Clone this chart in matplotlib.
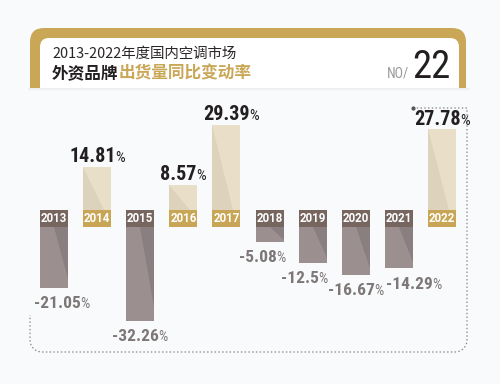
import numpy as np
import matplotlib
matplotlib.use('Agg')
import matplotlib.pyplot as plt
from matplotlib import font_manager
from matplotlib.patches import FancyBboxPatch, Rectangle, Polygon

years = ['2013', '2014', '2015', '2016', '2017', '2018', '2019', '2020', '2021', '2022']
changes = [-21.05, 14.81, -32.26, 8.57, 29.39, -5.08, -12.5, -16.67, -14.29, 27.78]

title_1 = '2013-2022年度国内空调市场'
title_2a = '外资品牌'
title_2b = '出货量同比变动率'
page_no = '22'

bg = '#f9fafb'
gold = '#c9a757'
pos_bar, pos_dark = '#e9dfc8', '#ddd2bb'
neg_bar, neg_dark = '#9b8f8f', '#8a7f80'
pos_box, neg_box = '#c8a655', '#76665f'
cjk = ['Noto Sans CJK SC', 'DejaVu Sans']
# hand nudges (px) the original layout uses for a few labels
nudge = {'2013': 8, '2017': 5, '2018': -7, '2019': -8, '2021': 15}

# pick a condensed face for the numbers if one is installed
narrow, stretch = 'Roboto', 'normal'
faces = [(f.name, str(f.stretch)) for f in font_manager.fontManager.ttflist]
for name in ['Roboto Condensed', 'Liberation Sans Narrow', 'Open Sans Condensed']:
    if any(n == name for n, s in faces):
        narrow = name
        break
else:
    if any(n == 'DejaVu Sans' and 'condensed' in s for n, s in faces):
        narrow, stretch = 'DejaVu Sans', 'condensed'

fig = plt.figure(figsize=(5, 3.84), dpi=100, facecolor=bg)

# data axes: 1 unit = 2.9 px, year boxes straddle zero
ax = fig.add_axes([0, 0, 1, 1])
ax.set_facecolor('none')
ax.axis('off')
ax.set_zorder(2)
step = 43.11
ax.set_xlim(-54 / step, (500 - 54) / step)
ppu = 2.9
ax.set_ylim((218.5 - 384) / ppu, 218.5 / ppu)
half = 8.5 / ppu
w = 0.65

x = np.arange(len(years))
vals = np.array(changes)
bottoms = np.where(vals > 0, half, -half)
ax.bar(x, vals, bottom=bottoms, width=w,
       color=[pos_bar if v > 0 else neg_bar for v in vals], zorder=2)
ax.bar(x, 2 * half, bottom=-half, width=w,
       color=[pos_box if v > 0 else neg_box for v in vals], zorder=3)

for xi, v, b in zip(x, vals, bottoms):
    l, r = xi - w / 2, xi + w / 2
    if v > 0:
        tri = [(l, b + v), (l, b), (l + 0.75 * w, b)]
        ax.add_patch(Polygon(tri, color=pos_dark, lw=0, zorder=2.5))
    else:
        tri = [(xi, b), (r, b), (r, b + 0.85 * v)]
        ax.add_patch(Polygon(tri, color=neg_dark, lw=0, zorder=2.5))

for xi, yr in zip(x, years):
    ax.text(xi, 0, yr, ha='center', va='center', color='white',
            fontsize=8.3, fontweight='bold', family='Roboto', zorder=4)

renderer = fig.canvas.get_renderer()
k = 72 / fig.dpi
for xi, v, b, yr in zip(x, vals, bottoms, years):
    top = b + v
    if v > 0:
        dy, col, fs, fp = 3.5, '#231f20', 14.5, 11
    else:
        dy, col, fs, fp = -14.5, '#7d7777', 12.5, 10.5
    t = ax.annotate(f'{v:g}', (xi, top), xytext=(0, dy), textcoords='offset points',
                    ha='left', va='baseline', color=col, fontsize=fs,
                    fontweight='bold', family=narrow, fontstretch=stretch, zorder=5)
    p = ax.annotate('%', (xi, top), xytext=(0, dy), textcoords='offset points',
                    ha='left', va='baseline', color=col, fontsize=fp,
                    family=narrow, fontstretch=stretch, zorder=5)
    wn = t.get_window_extent(renderer).width
    wp = p.get_window_extent(renderer).width
    x0 = -(wn + wp) / 2 + nudge.get(yr, 0)
    t.set_position((x0 * k, dy))
    p.set_position(((x0 + wn - 0.5) * k, dy))

# overlay in pixel coordinates for header and frame
ov = fig.add_axes([0, 0, 1, 1])
ov.set_xlim(0, 500)
ov.set_ylim(384, 0)
ov.axis('off')
ov.set_facecolor('none')
ov.set_zorder(1)

ov.add_patch(FancyBboxPatch((30, 28), 436, 80, boxstyle='round,pad=0,rounding_size=14',
                            fc=gold, ec='none', zorder=1))
ov.add_patch(FancyBboxPatch((40, 38), 419, 70, boxstyle='round,pad=0,rounding_size=9',
                            fc='white', ec='none', zorder=2))
for i, c in enumerate(['#eeeeee', '#f2f2f2', '#f6f6f6']):
    ov.add_patch(Rectangle((28, 88 + i), 442, 1, fc=c, ec='none', zorder=3))
ov.add_patch(Rectangle((25, 91), 450, 20, fc=bg, ec='none', zorder=3))

ov.text(52, 54, title_1, ha='left', va='center', fontsize=10.4,
        color='#2a2626', family=cjk, zorder=4)
t2 = ov.text(52, 73, title_2a, ha='left', va='center', fontsize=12,
             fontweight='bold', color='#231f20', family=cjk, zorder=4)
bb = t2.get_window_extent(renderer)
x2 = ov.transData.inverted().transform((bb.x1, bb.y0))[0]
ov.text(x2, 73, title_2b, ha='left', va='center', fontsize=12,
        fontweight='bold', color=gold, family=cjk, zorder=4)
ov.text(409, 78, 'NO/', ha='right', va='baseline', fontsize=10,
        color='#9a9898', family=narrow, fontstretch=stretch, zorder=4)
ov.text(412, 78, page_no, ha='left', va='baseline', fontsize=28,
        color='#231f20', family=narrow, fontstretch=stretch, zorder=4)

# dotted frame
r = 12
a1 = np.linspace(0, np.pi / 2, 12)
path = [(413, 108), (467, 108), (467, 352 - r)]
path += [(467 - r + r * np.cos(a), 352 - r + r * np.sin(a)) for a in a1]
path += [(30 + r, 352)]
path += [(30 + r - r * np.sin(a), 352 - r + r * np.cos(a)) for a in a1]
path += [(30, 315)]
px, py = zip(*path)
ov.plot(px, py, color='#8a8a8a', lw=0.9, ls=(0, (1.2, 1.8)), zorder=5)
ov.plot([413], [108], 'o', color='#555555', ms=2, zorder=5)

fig.savefig('out.png', dpi=100, facecolor=bg)
